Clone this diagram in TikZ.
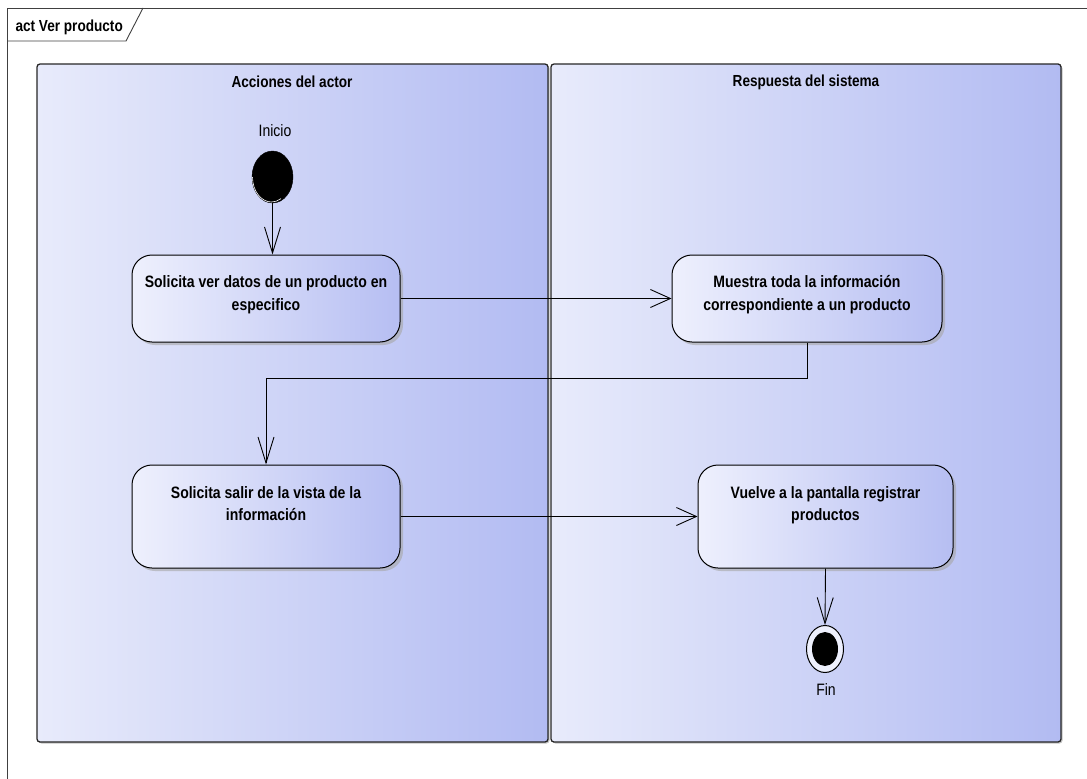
\documentclass[tikz,border=0pt]{standalone}
\usepackage{fontspec}
\setmainfont[FakeStretch=0.85]{Liberation Sans}
\usetikzlibrary{arrows.meta,shadows,calc,shapes.geometric}
\definecolor{laneL}{RGB}{232,235,251}
\definecolor{laneR}{RGB}{178,187,242}
\definecolor{actL}{RGB}{238,240,253}
\definecolor{actR}{RGB}{182,190,242}
\tikzset{
  lane/.style={draw=black!85, line width=1.3pt, rounded corners=3pt, left color=laneL, right color=laneR,
    drop shadow={shadow xshift=1.5pt, shadow yshift=-1.5pt, fill=black!40, opacity=0.6}},
  action/.style={draw=black, line width=1pt, rounded corners=20pt, left color=actL, right color=actR,
    drop shadow={shadow xshift=3pt, shadow yshift=-3pt, fill=black!35, opacity=0.6},
    align=center, font=\fontsize{16.5}{22.5}\selectfont\bfseries, inner sep=0pt},
  flowh/.style={draw=black, line width=0.9pt, -{Straight Barb[length=20pt,width=18pt]}},
  flowv/.style={draw=black, line width=0.9pt, -{Straight Barb[length=26pt,width=16pt]}},
  lbl/.style={font=\fontsize{16.5}{18}\selectfont},
  hdr/.style={font=\fontsize{16}{18}\selectfont\bfseries},
}
\begin{document}
\begin{tikzpicture}[x=1pt,y=-1pt]
\useasboundingbox (0,0) rectangle (1087,779);
% frame
\draw[line width=0.9pt, black!75] (7,779) -- (7,8) -- (1087,8);
\draw[line width=0.9pt, black!75] (7,41) -- (126,41) -- (143,8);
\node[hdr, anchor=base west] (title) at (12,31.5) {act Ver producto};
% lanes
\path[lane] (37,64) rectangle (548,742);
\path[lane] (551,64) rectangle (1061,742);
\node[hdr] (h1) at (292,82) {Acciones del actor};
\node[hdr] (h2) at (806,82) {Respuesta del sistema};
% start
\node[lbl] (ini) at (275,131) {Inicio};
\node[draw=black, fill=black, ellipse, minimum width=41pt, minimum height=52pt, inner sep=0pt] (start) at (272.5,177) {};
\draw[white, line width=0.6pt] (start.center) ++(-20,0) arc[start angle=180, end angle=300, x radius=19pt, y radius=25pt];
% actions
\node[action, text depth=11pt, minimum width=268pt, minimum height=87pt] (a1) at (266,298.5) {Solicita ver datos de un producto en\\especifico};
\node[action, text depth=11pt, minimum width=270pt, minimum height=87pt] (a2) at (807,298.5) {Muestra toda la información\\correspondiente a un producto};
\node[action, text depth=26pt, minimum width=268pt, minimum height=103pt] (a3) at (266,516.5) {Solicita salir de la vista de la\\información};
\node[action, text depth=26pt, minimum width=255pt, minimum height=103pt] (a4) at (825.5,516.5) {Vuelve a la pantalla registrar\\productos};
% final
\node[draw=black, line width=1pt, fill=actL, ellipse, minimum width=37pt, minimum height=47pt, inner sep=0pt] (fin) at (825,649) {};
\node[fill=black, ellipse, minimum width=26pt, minimum height=34pt, inner sep=0pt] (finin) at (fin.center) {};
\node[lbl] (finl) at (826,690) {Fin};
% flows
\draw[flowv] (start.south) -- (start.south |- a1.north);
\draw[flowh] (a1.east) -- (a2.west);
\coordinate (bend) at (807,378);
\draw[flowv] (a2.south) -- (bend) -| (a3.north);
\draw[flowh] (a3.east) -- (a4.west);
\draw[flowv] (a4.south) -- (fin.north);
\end{tikzpicture}
\end{document}
